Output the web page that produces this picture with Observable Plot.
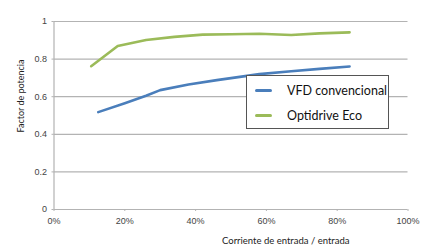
<!DOCTYPE html>
<html><head><meta charset="utf-8">
<script src="https://cdn.jsdelivr.net/npm/d3@7"></script>
<script src="https://cdn.jsdelivr.net/npm/@observablehq/plot@0.6"></script>
<style>
html,body{margin:0;padding:0;background:#fff;}
#wrap{position:relative;width:430px;height:248px;}
.lbl{position:absolute;font-family:Lato,"Noto Sans",sans-serif;color:#222;white-space:nowrap;}
#legend{position:absolute;left:246px;top:75px;width:143px;height:54px;border:1px solid #555;background:#fff;box-sizing:border-box;font-family:Lato,"Noto Sans",sans-serif;font-size:12.5px;color:#111;}
.row{position:absolute;left:8px;height:14px;display:flex;align-items:center;}
.sw{width:17px;height:3px;border-radius:1.5px;margin-right:15px;}
</style></head>
<body><div id="wrap"></div>
<script>
const seriesNames = ["VFD convencional", "Optidrive Eco"];
const seriesColors = ["#4a7ebb", "#9bbb59"];
const vfdX = [0.125, 0.20, 0.26, 0.30, 0.38, 0.46, 0.58, 0.67, 0.75, 0.835];
const vfdY = [0.518, 0.565, 0.605, 0.635, 0.665, 0.688, 0.72, 0.735, 0.748, 0.761];
const ecoX = [0.105, 0.18, 0.26, 0.34, 0.42, 0.50, 0.58, 0.67, 0.75, 0.835];
const ecoY = [0.762, 0.87, 0.902, 0.918, 0.93, 0.932, 0.935, 0.928, 0.937, 0.942];
const xTicks = [0, 0.2, 0.4, 0.6, 0.8, 1];
const yTicks = [0, 0.2, 0.4, 0.6, 0.8, 1];
const xTitle = "Corriente de entrada / entrada";
const yTitle = "Factor de potencia";

const data = [
  ...vfdX.map((x, i) => ({x, y: vfdY[i], s: seriesNames[0]})),
  ...ecoX.map((x, i) => ({x, y: ecoY[i], s: seriesNames[1]}))
];

const chart = Plot.plot({
  width: 430, height: 248,
  marginLeft: 53.5, marginRight: 22.5, marginTop: 21, marginBottom: 39,
  style: {fontFamily: "'Liberation Sans', Arial, sans-serif", fontSize: "9px", color: "#444", background: "#fff"},
  x: {domain: [0, 1], ticks: xTicks, tickFormat: d3.format(".0%"), label: null},
  y: {domain: [0, 1], ticks: yTicks, tickFormat: d => d === 0 || d === 1 ? String(d) : d3.format(".1f")(d), label: null},
  color: {domain: seriesNames, range: seriesColors},
  marks: [
    Plot.ruleY(yTicks.filter(d => d > 0), {stroke: "#b3b3b3", strokeWidth: 1.2}),
    Plot.ruleX([0], {stroke: "#b3b3b3", strokeWidth: 1.2}),
    Plot.ruleY([0], {stroke: "#b3b3b3", strokeWidth: 1.2}),
    Plot.axisX({ticks: xTicks, tickFormat: d3.format(".0%"), tickSize: 2, tickPadding: 6, stroke: "#b3b3b3", fill: "#444", label: null}),
    Plot.axisY({ticks: yTicks, tickFormat: d => d === 0 || d === 1 ? String(d) : d3.format(".1f")(d), tickSize: 2, tickPadding: 5, stroke: "#b3b3b3", fill: "#444", label: null}),
    Plot.line(data, {x: "x", y: "y", z: "s", stroke: "s", strokeWidth: 2.6, curve: "linear"})
  ]
});

const wrap = document.getElementById("wrap");
wrap.appendChild(chart);

const xt = document.createElement("div");
xt.className = "lbl"; xt.textContent = xTitle;
xt.style.cssText = "left:222px;top:235px;font-size:9.5px;";
wrap.appendChild(xt);

const yt = document.createElement("div");
yt.className = "lbl"; yt.textContent = yTitle;
yt.style.cssText = "left:20px;top:96px;font-size:9px;transform:translate(-50%,-50%) rotate(-90deg);";
wrap.appendChild(yt);

const lg = document.createElement("div");
lg.id = "legend";
seriesNames.forEach((n, i) => {
  const r = document.createElement("div");
  r.className = "row"; r.style.top = (7 + i * 25) + "px";
  const sw = document.createElement("div"); sw.className = "sw"; sw.style.background = seriesColors[i];
  const t = document.createElement("span"); t.textContent = n;
  r.appendChild(sw); r.appendChild(t); lg.appendChild(r);
});
wrap.appendChild(lg);
</script></body></html>
